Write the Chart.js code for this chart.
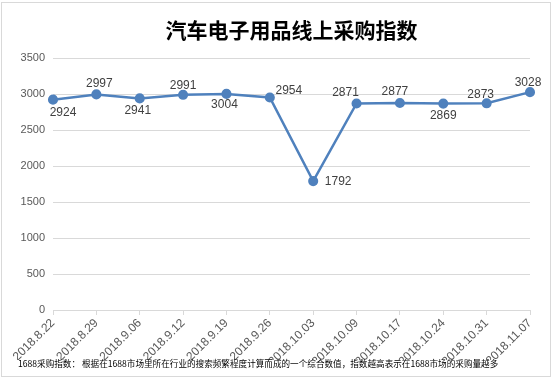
<!DOCTYPE html>
<html lang="zh">
<head>
  <meta charset="UTF-8">
  <title>汽车电子用品线上采购指数</title>
  <script src="https://cdn.jsdelivr.net/npm/chart.js"></script>
  <style>
    html, body { margin: 0; padding: 0; background: #fff; }
    #wrap { width: 554px; height: 379px; }
  </style>
</head>
<body>
  <div id="wrap"><canvas id="grafico" width="554" height="379"></canvas></div>

  <script>
    // datos
    const fechas = ["2018.8.22", "2018.8.29", "2018.9.06", "2018.9.12", "2018.9.19", "2018.9.26",
                    "2018.10.03", "2018.10.09", "2018.10.17", "2018.10.24", "2018.10.31", "2018.11.07"];
    const indice = [2924, 2997, 2941, 2991, 3004, 2954, 1792, 2871, 2877, 2869, 2873, 3028];
    const ticksY = [0, 500, 1000, 1500, 2000, 2500, 3000, 3500];
    const titulo = "汽车电子用品线上采购指数";
    const nota = "1688采购指数： 根据在1688市场里所在行业的搜索频繁程度计算而成的一个综合数值，指数越高表示在1688市场的采购量越多";

    // donde va cada etiqueta respecto a su punto
    const desplaz = [[10, 13], [3, -11], [-2, 12], [0, -9], [-2, 11], [19, -7],
                     [25, 1], [-11, -11], [-5, -11], [0, 12], [-6, -9], [-2, -9]];

    const marco = {
      id: "marco",
      beforeDraw(chart) {
        const c = chart.ctx;
        c.save();
        c.fillStyle = "#fff";
        c.fillRect(0, 0, chart.width, chart.height);
        c.strokeStyle = "#d9d9d9";
        c.lineWidth = 1;
        c.strokeRect(1.5, 2.5, 549, 374);
        c.restore();
      },
      afterDraw(chart) {
        const c = chart.ctx;
        c.save();
        c.fillStyle = "#000";
        c.font = "8.6px 'Noto Sans CJK SC'";
        c.textBaseline = "middle";
        c.fillText(nota, 18, 364);
        c.restore();
      }
    };

    const etiquetas = {
      id: "etiquetas",
      afterDatasetsDraw(chart) {
        const c = chart.ctx;
        const meta = chart.getDatasetMeta(0);
        c.save();
        c.fillStyle = "#404040";
        c.font = "12px 'Liberation Sans'";
        c.textAlign = "center";
        c.textBaseline = "middle";
        meta.data.forEach((p, i) => {
          c.fillText(String(indice[i]), p.x + desplaz[i][0], p.y + desplaz[i][1]);
        });
        c.restore();
      }
    };

    const ctx = document.getElementById("grafico").getContext("2d");
    new Chart(ctx, {
      type: "line",
      data: {
        labels: fechas,
        datasets: [{
          data: indice,
          borderColor: "#4f81bd",
          backgroundColor: "#4f81bd",
          borderWidth: 2.5,
          pointRadius: 3.8,
          pointHoverRadius: 3.8,
          tension: 0
        }]
      },
      options: {
        responsive: false,
        animation: false,
        layout: { padding: { left: 0, right: 24, top: 0, bottom: 19 } },
        plugins: {
          legend: { display: false },
          tooltip: { enabled: false },
          title: {
            display: true,
            text: titulo,
            fullSize: false,
            color: "#000",
            font: { family: "'Noto Sans CJK SC'", size: 21, weight: "bold" },
            padding: { top: 17, bottom: 16 }
          }
        },
        scales: {
          x: {
            offset: false,
            grid: { offset: false, drawOnChartArea: false, drawTicks: true, tickLength: 5, color: "#d9d9d9" },
            border: { display: true, color: "#d9d9d9" },
            ticks: {
              color: "#595959",
              font: { family: "'Liberation Sans'", size: 12 },
              minRotation: 45, maxRotation: 45,
              autoSkip: false,
              padding: 1
            },
            afterFit(s) { s.height = 50; }
          },
          y: {
            min: 0,
            max: 3500,
            afterBuildTicks(s) { s.ticks = ticksY.map(v => ({ value: v })); },
            grid: { color: "#d9d9d9", drawTicks: false },
            border: { display: false },
            ticks: {
              color: "#595959",
              font: { family: "'Liberation Sans'", size: 11 },
              padding: 8,
              callback: v => String(v)
            },
            afterFit(s) { s.width = 53; }
          }
        }
      },
      plugins: [marco, etiquetas]
    });
  </script>
</body>
</html>
